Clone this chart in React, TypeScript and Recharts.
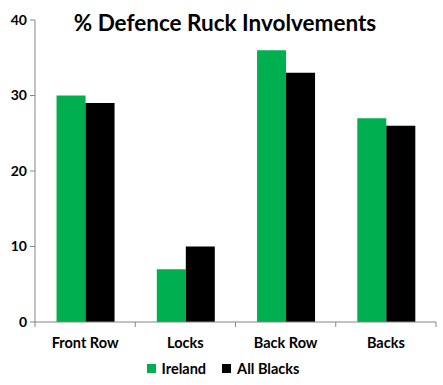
import { BarChart, Bar, XAxis, YAxis, Legend } from 'recharts';

const positions = ['Front Row', 'Locks', 'Back Row', 'Backs'];
const ireland = [30, 7, 36, 27];
const allBlacks = [29, 10, 33, 26];
const yTicks = [0, 10, 20, 30, 40];
const seriesNames = ['Ireland', 'All Blacks'];
const seriesColors = ['#00B050', '#000000'];

const data = positions.map((name, i) => ({ name, ireland: ireland[i], allBlacks: allBlacks[i] }));

const FONT = 'Lato, "Open Sans", sans-serif';
const AXIS = '#868686';

interface TickProps {
  x?: number;
  y?: number;
  index?: number;
  payload?: { value: string; offset: number };
}

// category label plus boundary tick marks like Excel
function CategoryTick({ x = 0, y = 0, index = 0, payload }: TickProps) {
  const half = payload?.offset ?? 0;
  const top = y - 8;
  return (
    <g>
      <line x1={x - half} x2={x - half} y1={top} y2={top + 5} stroke={AXIS} />
      {index === positions.length - 1 && (
        <line x1={x + half} x2={x + half} y1={top} y2={top + 5} stroke={AXIS} />
      )}
      <text x={x} y={y + 18} textAnchor="middle" fontFamily={FONT} fontWeight={700} fontSize={14.5} fill="#000">
        {payload?.value}
      </text>
    </g>
  );
}

function LegendContent() {
  return (
    <div style={{ display: 'flex', justifyContent: 'center', gap: 16, fontFamily: FONT, fontWeight: 700, fontSize: 14.5, color: '#000', paddingLeft: 10 }}>
      {seriesNames.map((n, i) => (
        <span key={n} style={{ display: 'flex', alignItems: 'center' }}>
          <span style={{ display: 'inline-block', width: 9, height: 9, background: seriesColors[i], marginRight: 6 }} />
          {n}
        </span>
      ))}
    </div>
  );
}

export default function App() {
  return (
    <div style={{ position: 'fixed', left: 0, top: 0, width: 443, height: 385, background: '#fff' }}>
      <div
        style={{
          position: 'absolute',
          top: 9,
          left: 0,
          width: 450,
          textAlign: 'center',
          fontFamily: FONT,
          fontWeight: 700,
          fontSize: 22.5,
          color: '#000',
        }}
      >
        % Defence Ruck Involvements
      </div>
      <BarChart
        width={443}
        height={385}
        data={data}
        margin={{ top: 20, right: 7, left: 0, bottom: 0 }}
        barCategoryGap="21.5%"
        barGap={0}
      >
        <XAxis
          dataKey="name"
          stroke={AXIS}
          tickLine={false}
          tick={<CategoryTick />}
          height={38}
          interval={0}
        />
        <YAxis
          width={35}
          domain={[0, 40]}
          ticks={yTicks}
          stroke={AXIS}
          tickSize={5}
          tickMargin={3}
          tick={{ fill: '#000', fontFamily: FONT, fontWeight: 700, fontSize: 14 }}
        />
        <Legend verticalAlign="bottom" content={<LegendContent />} wrapperStyle={{ paddingBottom: 8 }} />
        <Bar dataKey="ireland" name="Ireland" fill={seriesColors[0]} isAnimationActive={false} />
        <Bar dataKey="allBlacks" name="All Blacks" fill={seriesColors[1]} isAnimationActive={false} />
      </BarChart>
    </div>
  );
}
